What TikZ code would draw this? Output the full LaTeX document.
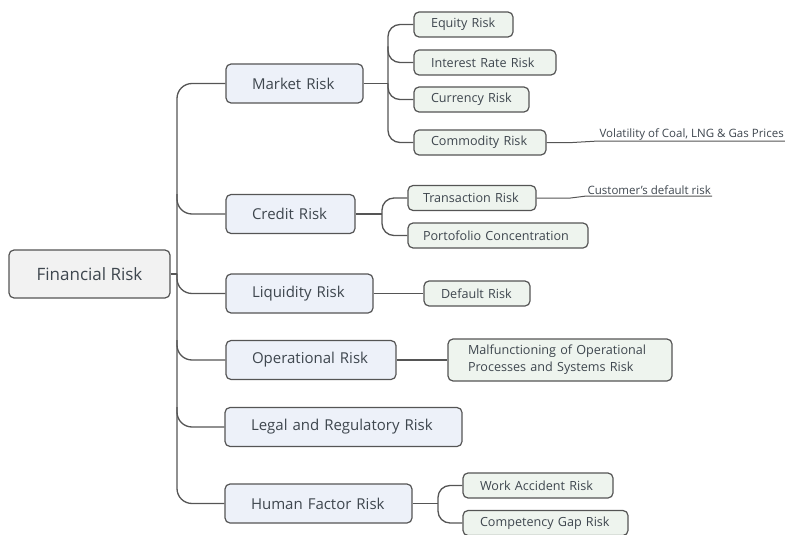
\documentclass[tikz,border=0pt]{standalone}
\usepackage{fontspec}
\setmainfont{Open Sans}
\usetikzlibrary{calc}
\definecolor{rootfill}{HTML}{F2F2F2}
\definecolor{lvlonefill}{HTML}{EDF1F9}
\definecolor{lvltwofill}{HTML}{EEF4EE}
\definecolor{edge}{HTML}{555555}
\definecolor{ink}{HTML}{3E464E}
\tikzset{
  x=1pt, y=-1pt,
  box/.style={draw=edge, line width=1.2pt, rounded corners=5pt, text=ink,
              inner ysep=0pt, anchor=center, align=left},
  rootbox/.style={box, fill=rootfill, minimum width=161pt, minimum height=48pt,
                  inner xsep=0pt, align=center, font=\fontsize{17}{20}\selectfont},
  topicbox/.style={box, fill=lvlonefill, minimum height=39pt, inner xsep=26pt,
                   font=\fontsize{15}{18}\selectfont},
  subbox/.style={box, fill=lvltwofill, minimum height=25pt, inner xsep=17pt,
                 font=\fontsize{12.6}{15}\selectfont},
  note/.style={text=ink, inner sep=1pt, font=\fontsize{11.5}{13}\selectfont},
  conn/.style={draw=edge, line width=1.3pt},
}
\begin{document}
\begin{tikzpicture}
\useasboundingbox (0,0) rectangle (785,535);

% root and first-level topics (box width = text width + 52pt)
\node[rootbox] (root) at (89.5,274) {Financial Risk};
\node[topicbox, text width=85pt]  (market)      at (294.5,83.5) {Market~Risk};
\node[topicbox, text width=77pt]  (credit)      at (290.5,214)  {Credit~Risk};
\node[topicbox, text width=95pt]  (liquidity)   at (299.5,293.5){Liquidity~Risk};
\node[topicbox, text width=118pt] (operational) at (311,360)    {Operational~Risk};
\node[topicbox, text width=185pt] (legal)       at (343.5,427)  {Legal~and~Regulatory~Risk};
\node[topicbox, text width=135pt] (human)       at (318.5,503.5){Human~Factor~Risk};

% second-level topics (box width = text width + 2 inner xsep)
\node[subbox, text width=65pt]  (equity)      at (463.5,24.5) {Equity~Risk};
\node[subbox, text width=108pt] (interest)    at (485,62.5)   {Interest~Rate~Risk};
\node[subbox, text width=81pt]  (currency)    at (471.5,99.5) {Currency~Risk};
\node[subbox, text width=98pt]  (commodity)   at (480,142.5)  {Commodity~Risk};
\node[subbox, inner xsep=15pt, text width=98pt]  (transaction) at (472,198)   {Transaction~Risk};
\node[subbox, inner xsep=15pt, text width=150pt] (portfolio)   at (498,235.5) {Portofolio~Concentration};
\node[subbox, text width=72pt]  (default)     at (477,293.5)  {Default~Risk};
\node[subbox, inner xsep=20pt, text width=184pt, minimum height=42pt,
      font=\fontsize{12.6}{17}\selectfont] (malfunction) at (560,360)
  {Malfunctioning~of~Operational\\Processes~and~Systems~Risk};
\node[subbox, text width=116pt] (work)        at (538,485.5)  {Work~Accident~Risk};
\node[subbox, text width=131pt] (competency)  at (545.5,523)  {Competency~Gap~Risk};

% annotations
\node[note, anchor=south east] (vol)  at (785,141) {Volatility of Coal, LNG \& Gas Prices};
\node[note, anchor=south east] (cust) at (712,196) {Customer's default risk};

% trunk positions
\coordinate (trunk)  at (177,0);
\coordinate (mtrunk) at (388,0);
\coordinate (ctrunk) at (382,0);
\coordinate (htrunk) at (438,0);

% root branches
\draw[conn] (root.east) -- (root.east -| trunk);
\draw[conn, rounded corners=15pt] (market.west) -- (market.west -| trunk)
      -- (human.west -| trunk) -- (human.west);
\foreach \n in {credit, liquidity, operational, legal}
  \draw[conn, rounded corners=15pt] ($(trunk |- \n.west)+(0,-20)$) |- (\n.west);

% market risk branches
\draw[conn] (market.east) -- (market.east -| mtrunk);
\draw[conn, rounded corners=12pt] (equity.west) -- (equity.west -| mtrunk)
      -- (commodity.west -| mtrunk) -- (commodity.west);
\foreach \n in {interest, currency}
  \draw[conn, rounded corners=12pt] ($(mtrunk |- \n.west)+(0,-16)$) |- (\n.west);

% credit risk branches
\draw[conn] (credit.east) -- (credit.east -| ctrunk);
\draw[conn, rounded corners=12pt] (transaction.west) -- (transaction.west -| ctrunk)
      -- (portfolio.west -| ctrunk) -- (portfolio.west);

% single links
\draw[conn] (liquidity.east) -- (default.west);
\draw[conn] (operational.east) -- (malfunction.west);

% human factor branches
\draw[conn] (human.east) -- (human.east -| htrunk);
\draw[conn, rounded corners=12pt] (work.west) -- (work.west -| htrunk)
      -- (competency.west -| htrunk) -- (competency.west);

% annotation leaders
\draw[conn, line width=1pt] (commodity.east) -- ++(26,0) -- (vol.south west) -- (vol.south east);
\draw[conn, line width=1pt] (transaction.east) -- ++(34,0) -- (cust.south west) -- (cust.south east);
\end{tikzpicture}
\end{document}
